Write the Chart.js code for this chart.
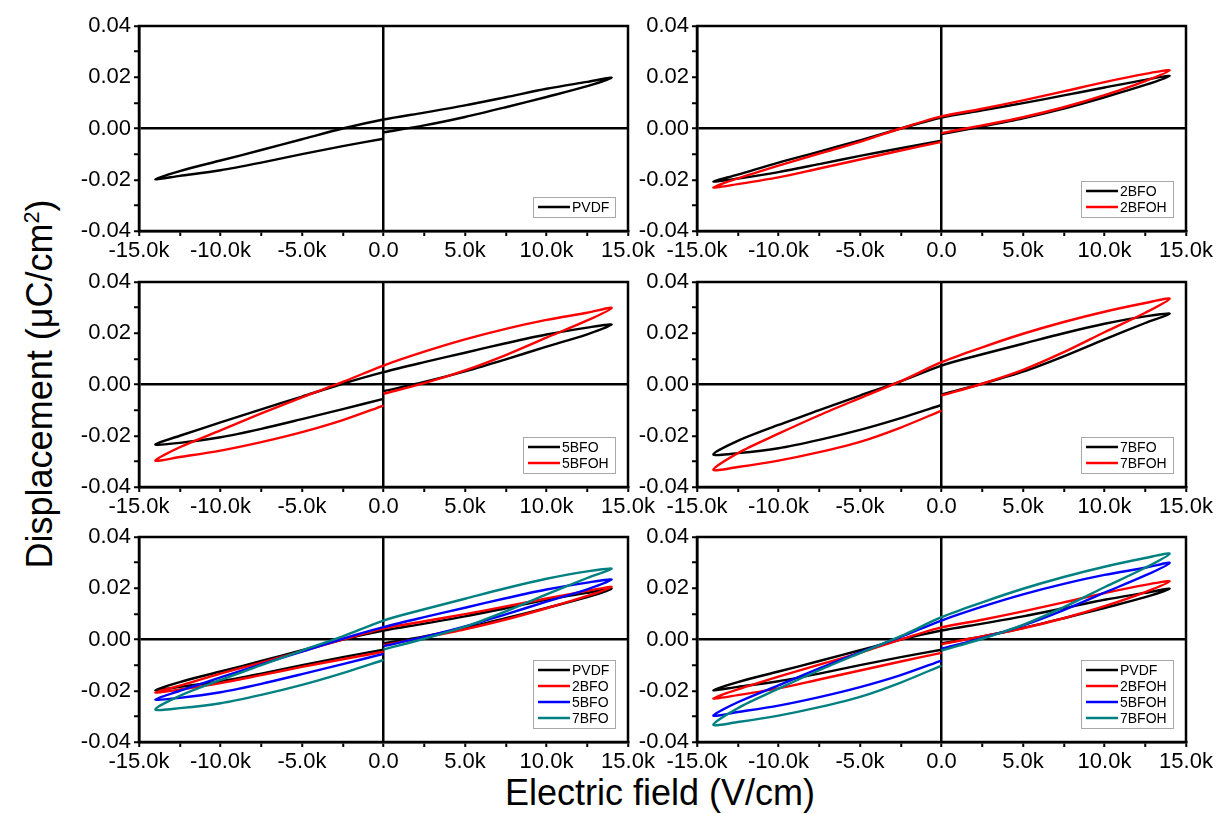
<!DOCTYPE html>
<html>
<head>
<meta charset="utf-8">
<title>P-E loops</title>
<script src="https://cdn.jsdelivr.net/npm/chart.js@4.4.1/dist/chart.umd.min.js"></script>
<style>
  html, body { margin: 0; padding: 0; background: #fff; }
  #page { position: relative; width: 1220px; height: 814px; overflow: hidden; font-family: Arial, "Liberation Sans", sans-serif; color: #000; }
  #page canvas { position: absolute; left: 0; top: 0; }
  .ytitle { position: absolute; left: 40px; top: 384px; transform: translate(-50%, -50%) rotate(-90deg); font-size: 36px; white-space: nowrap; }
  .xtitle { position: absolute; left: 660px; top: 793px; transform: translate(-50%, -50%); font-size: 36px; white-space: nowrap; }
  .ytitle sup { font-size: 60%; }
</style>
</head>
<body>
<div id="page">
  <div class="ytitle">Displacement (&mu;C/cm<sup>2</sup>)</div>
  <div class="xtitle">Electric field (V/cm)</div>
</div>
<script>
// field sweep: 0 -> +Emax -> -Emax -> 0 (V/cm)
const field = [0, 2500, 5000, 7500, 10000, 12500, 14000,
  12500, 10000, 7500, 5000, 2500, 0, -2500, -5000, -7500, -10000, -12500, -14000,
  -12500, -10000, -7500, -5000, -2500, 0];

const pvdf = [-0.0015, 0.0012, 0.0045, 0.0083, 0.0123, 0.0165, 0.0198,
  0.0182, 0.0155, 0.0122, 0.0090, 0.0062, 0.0035, 0.0000, -0.0042, -0.0084, -0.0125, -0.0166, -0.0198,
  -0.0185, -0.0163, -0.0133, -0.0100, -0.0069, -0.0040];
const bfo2 = [-0.0022, 0.0008, 0.0040, 0.0078, 0.0122, 0.0170, 0.0205,
  0.0190, 0.0160, 0.0129, 0.0099, 0.0071, 0.0043, 0.0000, -0.0046, -0.0090, -0.0133, -0.0180, -0.0207,
  -0.0195, -0.0170, -0.0139, -0.0107, -0.0077, -0.0048];
const bfoh2 = [-0.0018, 0.0012, 0.0044, 0.0083, 0.0130, 0.0185, 0.0227,
  0.0213, 0.0181, 0.0145, 0.0110, 0.0077, 0.0047, 0.0000, -0.0052, -0.0098, -0.0145, -0.0195, -0.0230,
  -0.0217, -0.0191, -0.0156, -0.0121, -0.0086, -0.0052];
const bfo5 = [-0.0026, 0.0010, 0.0051, 0.0098, 0.0148, 0.0196, 0.0234,
  0.0222, 0.0195, 0.0161, 0.0124, 0.0087, 0.0048, 0.0003, -0.0047, -0.0097, -0.0148, -0.0200, -0.0234,
  -0.0228, -0.0206, -0.0173, -0.0135, -0.0096, -0.0056];
const bfoh5 = [-0.0036, 0.0005, 0.0055, 0.0115, 0.0183, 0.0250, 0.0299,
  0.0280, 0.0252, 0.0217, 0.0176, 0.0128, 0.0074, 0.0010, -0.0050, -0.0113, -0.0179, -0.0245, -0.0297,
  -0.0283, -0.0258, -0.0225, -0.0186, -0.0139, -0.0082];
const bfo7 = [-0.0039, 0.0003, 0.0050, 0.0110, 0.0176, 0.0240, 0.0276,
  0.0266, 0.0237, 0.0200, 0.0159, 0.0118, 0.0074, 0.0012, -0.0043, -0.0100, -0.0158, -0.0220, -0.0273,
  -0.0268, -0.0249, -0.0216, -0.0177, -0.0131, -0.0080];
const bfoh7 = [-0.0043, 0.0003, 0.0057, 0.0126, 0.0204, 0.0280, 0.0335,
  0.0318, 0.0284, 0.0244, 0.0198, 0.0145, 0.0087, 0.0013, -0.0053, -0.0120, -0.0192, -0.0268, -0.0333,
  -0.0322, -0.0297, -0.0264, -0.0224, -0.0168, -0.0102];

const xTicksMajor = [-15000, -10000, -5000, 0, 5000, 10000, 15000];
const yTicksMajor = [-0.04, -0.02, 0, 0.02, 0.04];

const BLACK = "#000000", RED = "#FF0000", BLUE = "#0000FF", TEAL = "#008080";

// plot area of each panel: [left, top, right, bottom] in page pixels
const panels = [
  { area: [139, 26, 628, 231], series: [["PVDF", pvdf, BLACK]] },
  { area: [697, 26, 1186, 231], series: [["2BFO", bfo2, BLACK], ["2BFOH", bfoh2, RED]] },
  { area: [139, 282, 628, 487], series: [["5BFO", bfo5, BLACK], ["5BFOH", bfoh5, RED]] },
  { area: [697, 282, 1186, 487], series: [["7BFO", bfo7, BLACK], ["7BFOH", bfoh7, RED]] },
  { area: [139, 537, 628, 742], series: [["PVDF", pvdf, BLACK], ["2BFO", bfo2, RED], ["5BFO", bfo5, BLUE], ["7BFO", bfo7, TEAL]] },
  { area: [697, 537, 1186, 742], series: [["PVDF", pvdf, BLACK], ["2BFOH", bfoh2, RED], ["5BFOH", bfoh5, BLUE], ["7BFOH", bfoh7, TEAL]] }
];

Chart.defaults.font.family = "Arial, 'Liberation Sans', sans-serif";
const tickFont = { size: 22 };
const Y_AXIS_W = 62, X_AXIS_H = 40;

// box round the plot area
const frame = {
  id: "frame",
  afterDatasetsDraw(chart) {
    const { ctx, chartArea: a } = chart;
    ctx.save();
    ctx.strokeStyle = "#000";
    ctx.lineWidth = 2.5;
    ctx.strokeRect(a.left, a.top, a.right - a.left, a.bottom - a.top);
    ctx.restore();
  }
};

// small boxed legend in the lower right corner of the plot
const boxLegend = {
  id: "boxLegend",
  afterDraw(chart) {
    const { ctx, chartArea: a } = chart;
    const sets = chart.data.datasets;
    ctx.save();
    ctx.font = "14px Arial, 'Liberation Sans', sans-serif";
    const textW = Math.max(...sets.map(s => ctx.measureText(s.label).width));
    const w = Math.round(textW + 45), h = sets.length * 16 + 4;
    const x = Math.round(a.right - 13 - w), y = Math.round(a.bottom - 14 - h);
    ctx.fillStyle = "#fff";
    ctx.fillRect(x, y, w, h);
    ctx.strokeStyle = "#a8a8a8";
    ctx.lineWidth = 1;
    ctx.strokeRect(x + 0.5, y + 0.5, w, h);
    sets.forEach((s, i) => {
      const cy = y + 10 + i * 16;
      ctx.strokeStyle = s.borderColor;
      ctx.lineWidth = 2.5;
      ctx.beginPath();
      ctx.moveTo(x + 5, cy);
      ctx.lineTo(x + 37, cy);
      ctx.stroke();
      ctx.fillStyle = "#000";
      ctx.textBaseline = "middle";
      ctx.fillText(s.label, x + 39, cy + 1);
    });
    ctx.restore();
  }
};

function makePanel(p) {
  const canvas = document.createElement("canvas");
  canvas.width = 1220;
  canvas.height = 814;
  document.getElementById("page").appendChild(canvas);
  const [L, T, R, B] = p.area;

  new Chart(canvas, {
    type: "scatter",
    data: {
      datasets: p.series.map(([label, values, color], i) => ({
        label: label,
        data: field.map((e, k) => ({ x: e, y: values[k] })),
        showLine: true,
        borderColor: color,
        backgroundColor: color,
        borderWidth: 2.4,
        pointRadius: 0,
        tension: 0.3,
        order: -i
      }))
    },
    options: {
      responsive: false,
      animation: false,
      devicePixelRatio: 1,
      layout: { padding: { left: L - Y_AXIS_W, top: T, right: 1220 - R, bottom: 814 - B - X_AXIS_H } },
      plugins: { legend: { display: false }, tooltip: { enabled: false } },
      scales: {
        x: {
          type: "linear",
          min: xTicksMajor[0],
          max: xTicksMajor[xTicksMajor.length - 1],
          afterFit: s => { s.height = X_AXIS_H; },
          ticks: {
            stepSize: 2500,
            autoSkip: false,
            maxRotation: 0,
            minRotation: 0,
            padding: 2,
            color: "#000",
            font: tickFont,
            callback: v => xTicksMajor.includes(v) ? (v === 0 ? "0.0" : (v / 1000).toFixed(1) + "k") : ""
          },
          grid: {
            color: c => (c.tick && c.tick.value === 0) ? "#000" : "rgba(0,0,0,0)",
            lineWidth: 2.5,
            tickColor: "#000",
            tickWidth: 2,
            tickLength: 5
          },
          border: { color: "#000", width: 2.5 }
        },
        y: {
          min: yTicksMajor[0],
          max: yTicksMajor[yTicksMajor.length - 1],
          afterFit: s => { s.width = Y_AXIS_W; },
          ticks: {
            stepSize: 0.01,
            autoSkip: false,
            padding: 3,
            color: "#000",
            font: tickFont,
            callback: v => {
              const k = Math.round(v * 100);
              return k % 2 === 0 ? (k === 0 ? "0.00" : (k / 100).toFixed(2)) : "";
            }
          },
          grid: {
            color: c => (c.tick && Math.abs(c.tick.value) < 1e-9) ? "#000" : "rgba(0,0,0,0)",
            lineWidth: 2.5,
            tickColor: "#000",
            tickWidth: 2,
            tickLength: 5
          },
          border: { color: "#000", width: 2.5 }
        }
      }
    },
    plugins: [frame, boxLegend]
  });
}

panels.forEach(makePanel);
</script>
</body>
</html>
